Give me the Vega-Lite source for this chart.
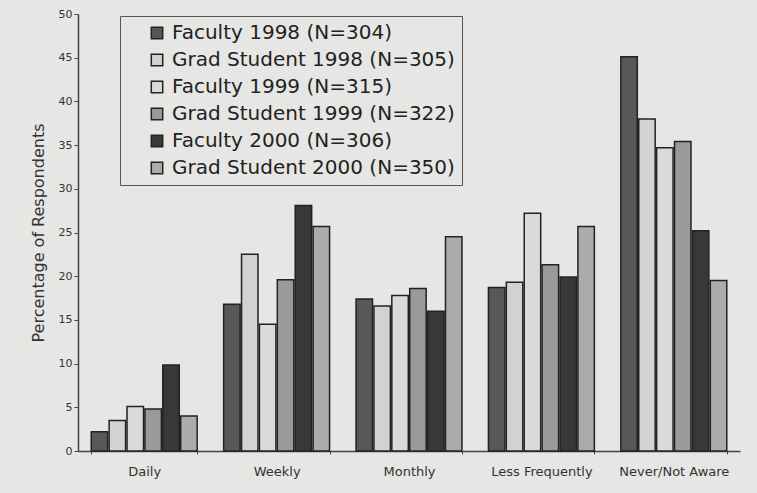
{
  "$schema": "https://vega.github.io/schema/vega-lite/v6.json",
  "width": 662,
  "height": 437,
  "autosize": {"type": "none"},
  "padding": {"left": 78, "top": 14, "right": 17, "bottom": 42},
  "background": "#e6e6e4",
  "config": {
    "view": {"stroke": null},
    "font": "DejaVu Sans",
    "axis": {"labelColor": "#333", "titleColor": "#333", "domainColor": "#444", "tickColor": "#444"}
  },
  "data": {
    "values": [
      {"freq": "Daily", "group": "Faculty 1998 (N=304)", "pct": 2.2},
      {"freq": "Daily", "group": "Grad Student 1998 (N=305)", "pct": 3.5},
      {"freq": "Daily", "group": "Faculty 1999 (N=315)", "pct": 5.1},
      {"freq": "Daily", "group": "Grad Student 1999 (N=322)", "pct": 4.8},
      {"freq": "Daily", "group": "Faculty 2000 (N=306)", "pct": 9.85},
      {"freq": "Daily", "group": "Grad Student 2000 (N=350)", "pct": 4.0},
      {"freq": "Weekly", "group": "Faculty 1998 (N=304)", "pct": 16.8},
      {"freq": "Weekly", "group": "Grad Student 1998 (N=305)", "pct": 22.5},
      {"freq": "Weekly", "group": "Faculty 1999 (N=315)", "pct": 14.5},
      {"freq": "Weekly", "group": "Grad Student 1999 (N=322)", "pct": 19.6},
      {"freq": "Weekly", "group": "Faculty 2000 (N=306)", "pct": 28.1},
      {"freq": "Weekly", "group": "Grad Student 2000 (N=350)", "pct": 25.7},
      {"freq": "Monthly", "group": "Faculty 1998 (N=304)", "pct": 17.4},
      {"freq": "Monthly", "group": "Grad Student 1998 (N=305)", "pct": 16.6},
      {"freq": "Monthly", "group": "Faculty 1999 (N=315)", "pct": 17.8},
      {"freq": "Monthly", "group": "Grad Student 1999 (N=322)", "pct": 18.6},
      {"freq": "Monthly", "group": "Faculty 2000 (N=306)", "pct": 16.0},
      {"freq": "Monthly", "group": "Grad Student 2000 (N=350)", "pct": 24.5},
      {"freq": "Less Frequently", "group": "Faculty 1998 (N=304)", "pct": 18.7},
      {"freq": "Less Frequently", "group": "Grad Student 1998 (N=305)", "pct": 19.3},
      {"freq": "Less Frequently", "group": "Faculty 1999 (N=315)", "pct": 27.2},
      {"freq": "Less Frequently", "group": "Grad Student 1999 (N=322)", "pct": 21.3},
      {"freq": "Less Frequently", "group": "Faculty 2000 (N=306)", "pct": 19.9},
      {"freq": "Less Frequently", "group": "Grad Student 2000 (N=350)", "pct": 25.7},
      {"freq": "Never/Not Aware", "group": "Faculty 1998 (N=304)", "pct": 45.1},
      {"freq": "Never/Not Aware", "group": "Grad Student 1998 (N=305)", "pct": 38.0},
      {"freq": "Never/Not Aware", "group": "Faculty 1999 (N=315)", "pct": 34.7},
      {"freq": "Never/Not Aware", "group": "Grad Student 1999 (N=322)", "pct": 35.4},
      {"freq": "Never/Not Aware", "group": "Faculty 2000 (N=306)", "pct": 25.2},
      {"freq": "Never/Not Aware", "group": "Grad Student 2000 (N=350)", "pct": 19.5}
    ]
  },
  "mark": {"type": "bar", "stroke": "#222", "strokeWidth": 1.5},
  "encoding": {
    "x": {
      "field": "freq", "type": "nominal",
      "sort": ["Daily", "Weekly", "Monthly", "Less Frequently", "Never/Not Aware"],
      "scale": {"paddingInner": 0.2, "paddingOuter": 0.1},
      "axis": {"title": null, "labelAngle": 0, "labelFontSize": 13, "labelPadding": 11, "tickBand": "extent", "tickSize": 3, "domainWidth": 1.5}
    },
    "xOffset": {
      "field": "group", "type": "nominal",
      "sort": ["Faculty 1998 (N=304)", "Grad Student 1998 (N=305)", "Faculty 1999 (N=315)", "Grad Student 1999 (N=322)", "Faculty 2000 (N=306)", "Grad Student 2000 (N=350)"],
      "scale": {"paddingInner": 0.08}
    },
    "y": {
      "field": "pct", "type": "quantitative",
      "scale": {"domain": [0, 50], "nice": false},
      "axis": {"title": "Percentage of Respondents", "titleFontSize": 16, "titleFontWeight": "normal", "titlePadding": 12, "values": [0,5,10,15,20,25,30,35,40,45,50], "grid": false, "labelFontSize": 11, "tickSize": 4, "domainWidth": 1.5}
    },
    "fill": {
      "field": "group", "type": "nominal",
      "sort": ["Faculty 1998 (N=304)", "Grad Student 1998 (N=305)", "Faculty 1999 (N=315)", "Grad Student 1999 (N=322)", "Faculty 2000 (N=306)", "Grad Student 2000 (N=350)"],
      "scale": {"range": ["#585858", "#d2d2d2", "#dadada", "#9a9a9a", "#383838", "#ababab"]},
      "legend": {
        "title": null,
        "orient": "none",
        "legendX": 42,
        "legendY": 2,
        "labelFontSize": 20,
        "labelLimit": 0,
        "labelColor": "#222",
        "symbolType": "square",
        "symbolSize": 130,
        "symbolOffset": 20,
        "symbolStrokeColor": "#222",
        "symbolStrokeWidth": 1.5,
        "rowPadding": 7,
        "labelOffset": 5,
        "strokeColor": "#555",
        "padding": 7,
        "fillColor": "#e6e6e4"
      }
    }
  }
}
